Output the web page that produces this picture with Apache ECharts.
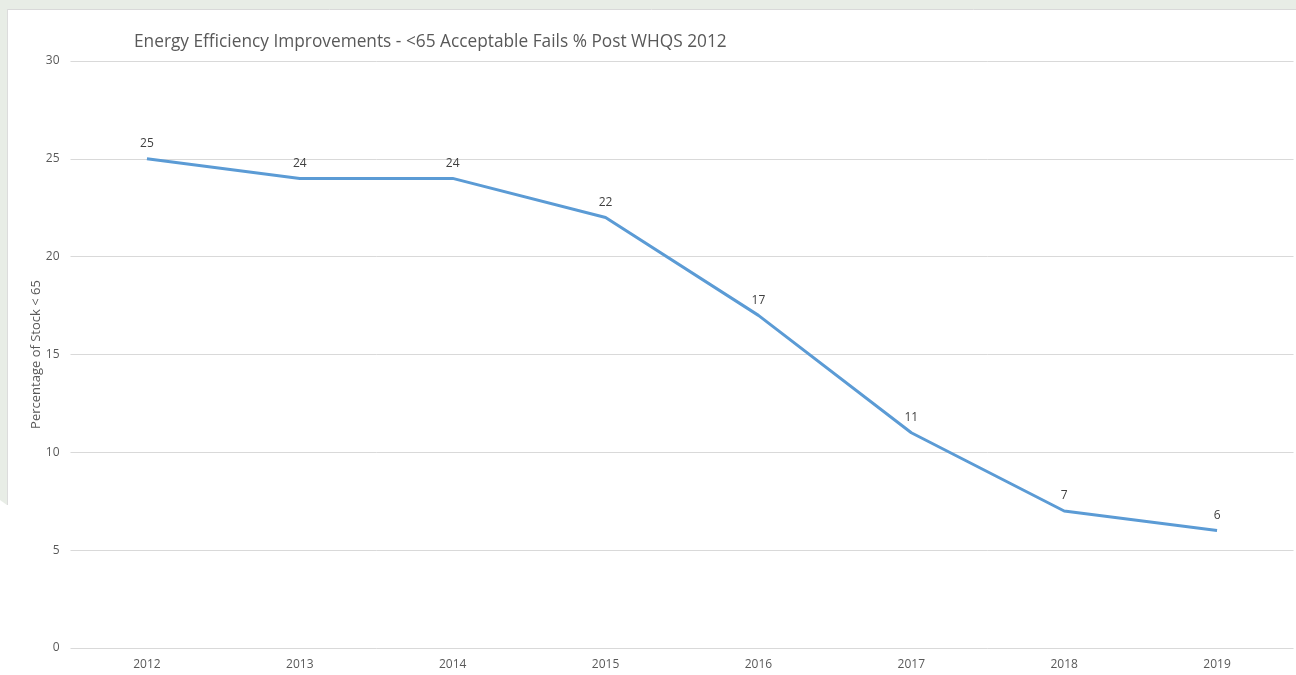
<!DOCTYPE html>
<html>
<head>
<meta charset="utf-8">
<script src="https://cdn.jsdelivr.net/npm/echarts@6/dist/echarts.min.js"></script>
<style>
html,body{margin:0;padding:0;background:#fff;}
#c{width:1296px;height:675px;}
</style>
</head>
<body>
<div id="c"></div>
<script>
const categories = ['2012','2013','2014','2015','2016','2017','2018','2019'];
const values = [25, 24, 24, 22, 17, 11, 7, 6];
const titleText = 'Energy Efficiency Improvements - <65 Acceptable Fails % Post WHQS 2012';
const yAxisName = 'Percentage of Stock < 65';

const chart = echarts.init(document.getElementById('c'));
chart.setOption({
  backgroundColor: '#ffffff',
  animation: false,
  graphic: [
    {type:'rect', shape:{x:0,y:0,width:1296,height:9}, style:{fill:'#e8ede6'}, silent:true, z:-10},
    {type:'polygon', shape:{points:[[0,0],[7,0],[7,505],[0,500]]}, style:{fill:'#e8ede6'}, silent:true, z:-10},
    {type:'line', shape:{x1:7,y1:9.5,x2:1296,y2:9.5}, style:{stroke:'#d9d9d9', lineWidth:1}, silent:true, z:-9},
    {type:'line', shape:{x1:7.5,y1:9,x2:7.5,y2:505}, style:{stroke:'#dcdcdc', lineWidth:1}, silent:true, z:-9}
  ],
  title: {
    text: titleText,
    left: 129, top: 29,
    textStyle: {fontFamily:'Open Sans', fontSize:17.3, fontWeight:'normal', color:'#595959'}
  },
  grid: {left: 70.5, right: 2.5, top: 61, bottom: 27, containLabel: false},
  xAxis: {
    type: 'category',
    data: categories,
    boundaryGap: true,
    axisLine: {show:false},
    axisTick: {show:false},
    axisLabel: {color:'#595959', fontSize:12, fontFamily:'Open Sans', margin:11},
    splitLine: {show:false}
  },
  yAxis: {
    type: 'value',
    min: 0, max: 30, interval: 5,
    name: yAxisName,
    nameLocation: 'middle',
    nameGap: 28,
    nameMoveOverlap: false,
    nameTextStyle: {color:'#595959', fontSize:13, fontFamily:'Open Sans'},
    axisLine: {show:false},
    axisTick: {show:false},
    axisLabel: {color:'#595959', fontSize:12, fontFamily:'Open Sans', margin:11},
    splitLine: {lineStyle:{color:'#d9d9d9', width:1}}
  },
  series: [{
    type: 'line',
    data: values,
    symbol: 'circle',
    symbolSize: 0,
    showSymbol: true,
    lineStyle: {color:'#5b9bd5', width:3},
    itemStyle: {color:'#5b9bd5'},
    label: {show:true, position:'top', distance:9, color:'#404040', fontSize:12, fontFamily:'Open Sans'}
  }]
});
</script>
</body>
</html>
